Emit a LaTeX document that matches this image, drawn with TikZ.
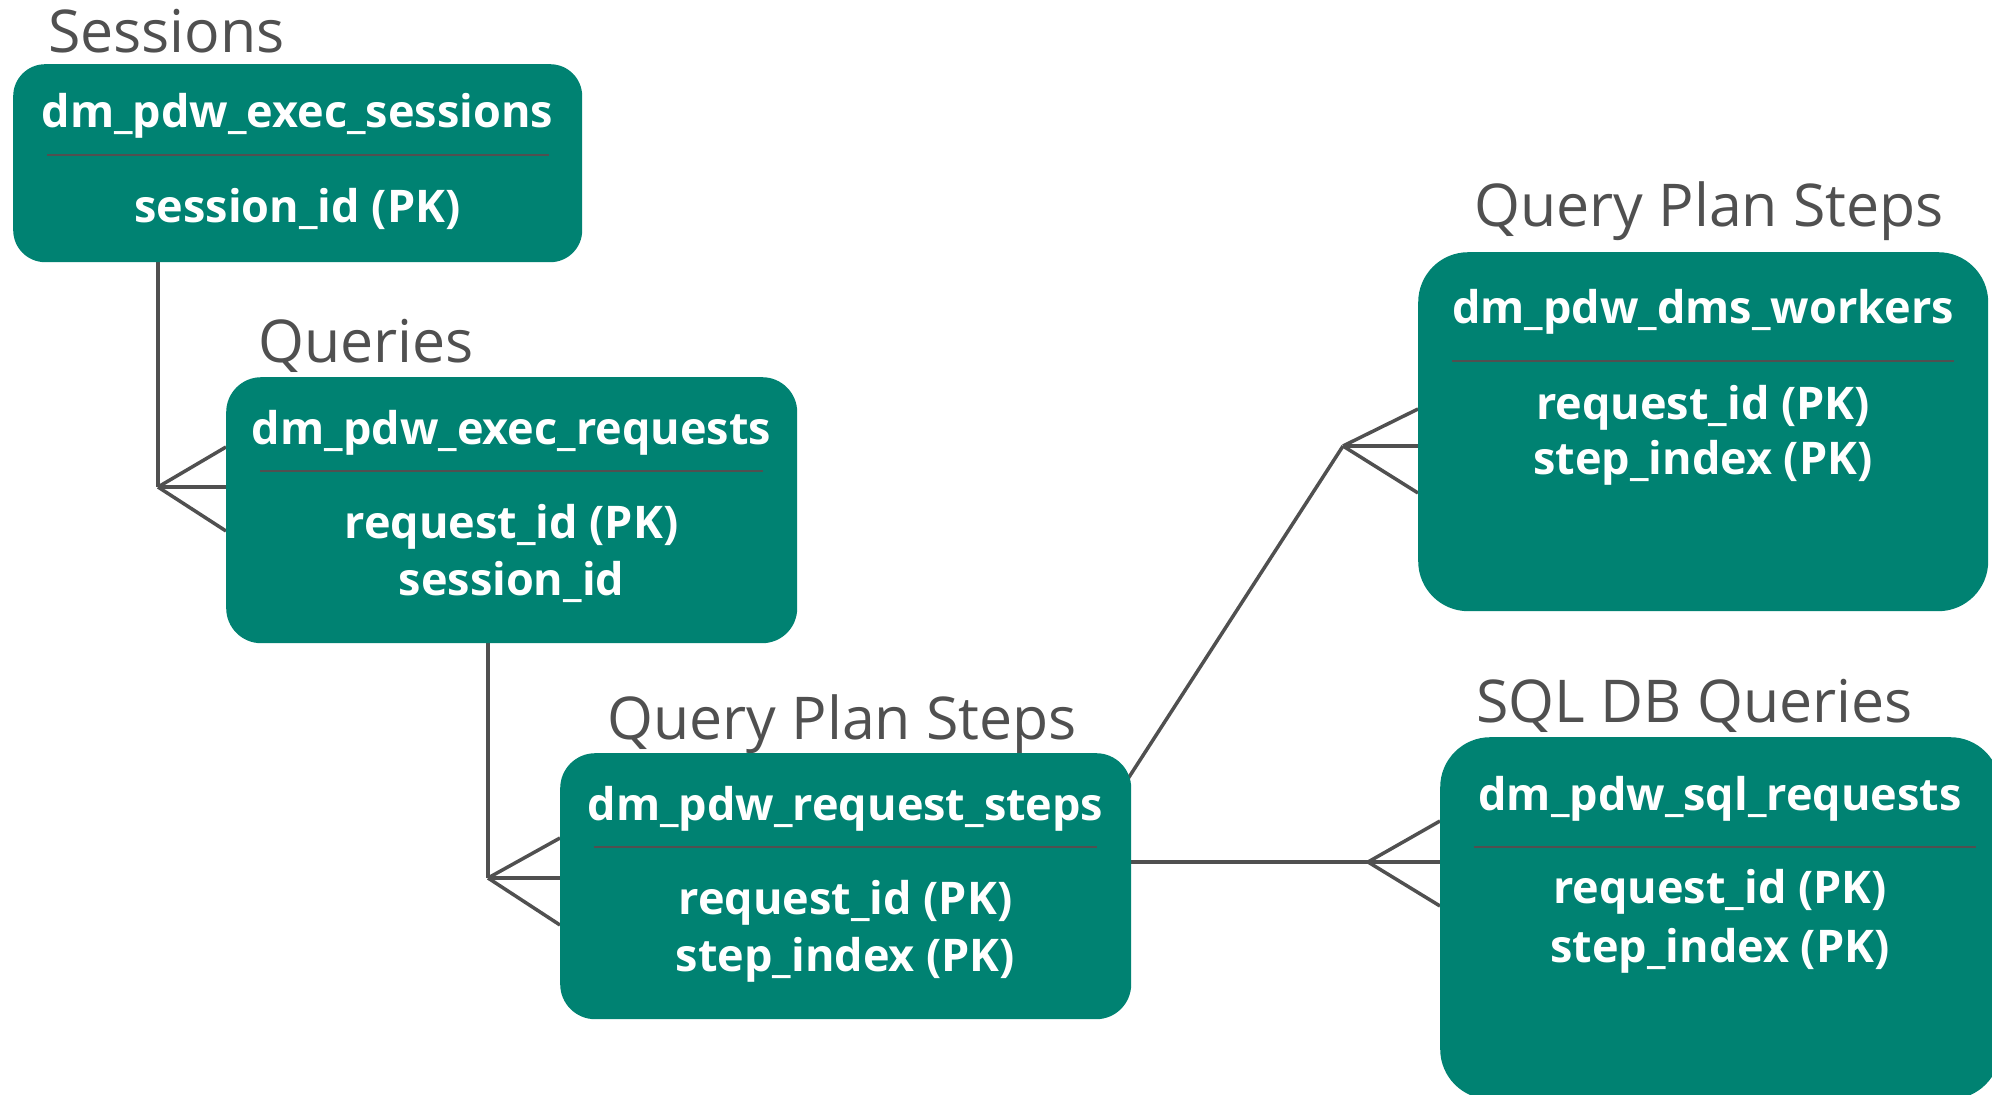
\documentclass[tikz,border=0pt]{standalone}
\usepackage{fontspec}
\setmainfont{Open Sans}
\definecolor{erteal}{HTML}{008272}
\definecolor{ergray}{HTML}{505050}
\pgfdeclarelayer{bg}
\pgfsetlayers{bg,main}
\begin{document}
\begin{tikzpicture}[x=1pt,y=-1pt,
  tbl/.style={fill=erteal, draw=none, inner sep=0pt, anchor=north west},
  hdr/.style={text=white, font=\bfseries\fontsize{45}{53}\selectfont, anchor=base, inner sep=0pt},
  ttl/.style={text=ergray, font=\fontsize{59}{70}\selectfont, anchor=base west, inner sep=0pt},
  sepline/.style={draw=ergray, line width=2pt},
  conn/.style={draw=ergray, line width=3.5pt}]
\useasboundingbox (0,0) rectangle (1992,1095);

% titles
\node[ttl] (t1) at (48,52) {Sessions};
\node[ttl] (t2) at (258,362) {Queries};
\node[ttl] (t3) at (607,739) {Query Plan Steps};
\node[ttl] (t4) at (1474,226) {Query Plan Steps};
\node[ttl] (t5) at (1476,722) {SQL DB Queries};

% boxes
\node[tbl, rounded corners=32pt, minimum width=569pt, minimum height=198pt] (b1) at (13,64) {};
\node[tbl, rounded corners=35pt, minimum width=571pt, minimum height=266pt] (b2) at (226,377) {};
\node[tbl, rounded corners=35pt, minimum width=571pt, minimum height=266pt] (b3) at (560,753) {};
\node[tbl, rounded corners=50pt, minimum width=570pt, minimum height=359pt] (b4) at (1418,252) {};
\node[tbl, rounded corners=50pt, minimum width=560pt, minimum height=362pt] (b5) at (1440,737) {};

% box 1
\node[hdr] (h1) at (297.5,127) {dm\_pdw\_exec\_sessions};
\draw[sepline] (47,155) -- (549,155);
\node[hdr] (r1a) at (297.5,222) {session\_id (PK)};
% box 2
\node[hdr] (h2) at (511.5,444) {dm\_pdw\_exec\_requests};
\draw[sepline] (260,471) -- (763,471);
\node[hdr] (r2a) at (511.5,538) {request\_id (PK)};
\node[hdr] (r2b) at (511.5,595) {session\_id};
% box 3
\node[hdr] (h3) at (845.5,820) {dm\_pdw\_request\_steps};
\draw[sepline] (594,847) -- (1097,847);
\node[hdr] (r3a) at (845.5,914) {request\_id (PK)};
\node[hdr] (r3b) at (845.5,971) {step\_index (PK)};
% box 4
\node[hdr] (h4) at (1703,323) {dm\_pdw\_dms\_workers};
\draw[sepline] (1452,361) -- (1954,361);
\node[hdr] (r4a) at (1703,419) {request\_id (PK)};
\node[hdr] (r4b) at (1703,474) {step\_index (PK)};
% box 5
\node[hdr] (h5) at (1720,810) {dm\_pdw\_sql\_requests};
\draw[sepline] (1474,847) -- (1976,847);
\node[hdr] (r5a) at (1720,903) {request\_id (PK)};
\node[hdr] (r5b) at (1720,962) {step\_index (PK)};

% connectors
\coordinate (k1) at (158,487);
\coordinate (k2) at (488,878);
\coordinate (k3) at (1343,446);
\coordinate (k4) at (1368,862);
\begin{pgfonlayer}{bg}
\draw[conn] (b1.south -| k1) -- (k1);
\draw[conn] (k1) -- (b2.west |- 0,447);
\draw[conn] (k1) -- (k1 -| b2.west);
\draw[conn] (k1) -- (b2.west |- 0,531);

\draw[conn] (b2.south -| k2) -- (k2);
\draw[conn] (k2) -- (b3.west |- 0,838);
\draw[conn] (k2) -- (k2 -| b3.west);
\draw[conn] (k2) -- (b3.west |- 0,925);

\draw[conn] ([xshift=-23pt,yshift=-56pt]b3.north east) -- (k3);
\draw[conn] (k3) -- (b4.west |- 0,409);
\draw[conn] (k3) -- (k3 -| b4.west);
\draw[conn] (k3) -- (b4.west |- 0,493);

\draw[conn] (b3.east |- k4) -- (k4);
\draw[conn] (k4) -- (b5.west |- 0,821);
\draw[conn] (k4) -- (k4 -| b5.west);
\draw[conn] (k4) -- (b5.west |- 0,906);
\end{pgfonlayer}
\end{tikzpicture}
\end{document}
